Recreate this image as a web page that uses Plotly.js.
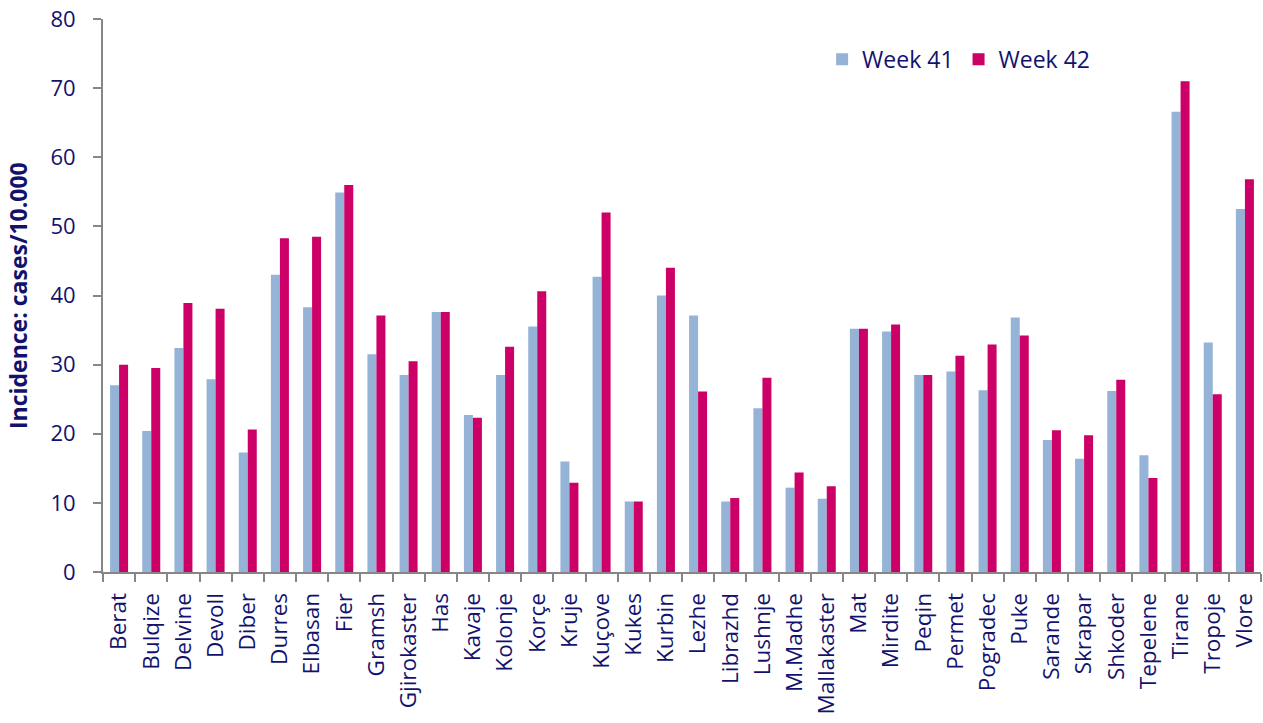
<!DOCTYPE html>
<html><head><meta charset="utf-8">
<script src="https://cdn.plot.ly/plotly-3.0.1.min.js"></script>
<style>html,body{margin:0;padding:0;background:#fff}#chart{width:1263px;height:723px}</style>
</head><body><div id="chart"></div>
<script>
const districts = ["Berat","Bulqize","Delvine","Devoll","Diber","Durres","Elbasan","Fier","Gramsh","Gjirokaster","Has","Kavaje","Kolonje","Korçe","Kruje","Kuçove","Kukes","Kurbin","Lezhe","Librazhd","Lushnje","M.Madhe","Mallakaster","Mat","Mirdite","Peqin","Permet","Pogradec","Puke","Sarande","Skrapar","Shkoder","Tepelene","Tirane","Tropoje","Vlore"];
const week41 = [27.0,20.4,32.4,27.9,17.3,43.0,38.3,54.9,31.5,28.5,37.6,22.7,28.5,35.5,16.0,42.7,10.2,40.0,37.1,10.2,23.7,12.2,10.6,35.2,34.8,28.5,29.0,26.3,36.8,19.1,16.4,26.2,16.9,66.6,33.2,52.5];
const week42 = [30.0,29.5,38.9,38.1,20.6,48.3,48.5,56.0,37.1,30.5,37.6,22.3,32.6,40.6,12.9,52.0,10.2,44.0,26.1,10.7,28.1,14.4,12.4,35.2,35.8,28.5,31.3,32.9,34.2,20.5,19.8,27.8,13.6,71.0,25.7,56.8];
const seriesNames = ["Week 41","Week 42"];
const yTitle = "Incidence: cases/10.000";

const navy = "#12126e";
const traces = [
  {type:"bar", name:seriesNames[0], x:districts, y:week41, marker:{color:"#95b3d7", line:{width:0}}},
  {type:"bar", name:seriesNames[1], x:districts, y:week42, marker:{color:"#cc0066", line:{width:0}}}
];
const layout = {
  width:1263, height:723,
  margin:{l:103, r:2, t:19, b:151},
  paper_bgcolor:"#fff", plot_bgcolor:"#fff",
  font:{family:"Open Sans, sans-serif", color:navy, size:20},
  barmode:"group", bargap:0.44, bargroupgap:0,
  showlegend:true,
  legend:{orientation:"h", x:0.621, y:0.927, xanchor:"left", yanchor:"middle",
          font:{size:23, color:navy}, itemwidth:30, bgcolor:"rgba(0,0,0,0)"},
  xaxis:{type:"category", tickangle:-90, showline:true, linecolor:"#868686", linewidth:2,
         ticks:"outside", tickson:"boundaries", ticklen:8, tickcolor:"#868686", tickwidth:2,
         tickfont:{size:22.5, color:navy}, ticklabelstandoff:10, showgrid:false, automargin:false},
  yaxis:{range:[0,80], dtick:10, showline:true, linecolor:"#868686", linewidth:2,
         ticks:"outside", ticklen:8, tickcolor:"#868686", tickwidth:2, showgrid:false, zeroline:false,
         tickfont:{size:22, color:navy}, ticklabelstandoff:13, automargin:false},
  annotations:[{text:"<b>"+yTitle+"</b>", xref:"paper", yref:"paper", x:-0.0738, y:0.5,
                xanchor:"center", yanchor:"middle", textangle:-90, showarrow:false,
                font:{size:23, color:navy}}]
};
Plotly.newPlot("chart", traces, layout, {displayModeBar:false, staticPlot:true});
</script></body></html>
